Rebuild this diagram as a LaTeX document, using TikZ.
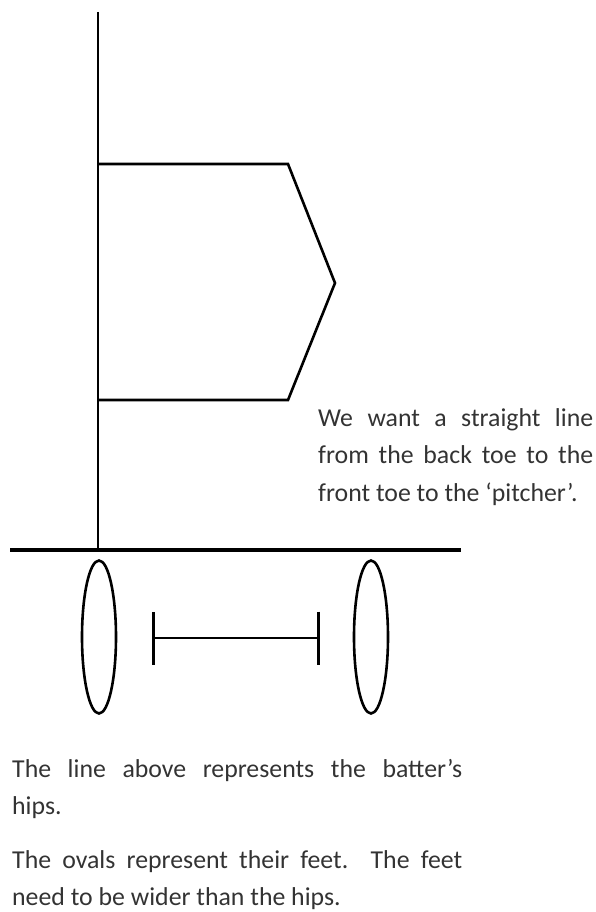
\documentclass[tikz,border=0pt]{standalone}
\usepackage{fontspec}
\setmainfont{Carlito}
\usetikzlibrary{arrows.meta, shapes.geometric}
\tikzset{
  % a stroke of the sketch
  ink/.style   = {draw, line width=2.6pt, line join=miter},
  % the batter's hips
  hips/.style  = {draw, line width=3.4pt},
  % a foot
  foot/.style  = {draw, ellipse, line width=2.6pt, inner sep=0pt,
                  minimum width=34pt, minimum height=153pt},
  % the width of the hips, drawn between the feet
  span/.style  = {{Bar[width=53pt]}-{Bar[width=53pt]}, line width=2.6pt},
  % a note beside the sketch
  note/.style  = {anchor=north west, inner sep=0pt, align=justify,
                  text=black!80, font=\fontsize{25.8}{37.5}\selectfont},
}
\hbadness=10000

\begin{document}
\begin{tikzpicture}[x=1pt, y=-1pt]
  \useasboundingbox (0,0) rectangle (595,912);
  % the batter, seen from above
  \coordinate (head)  at ( 98, 12);
  \coordinate (waist) at ( 98,550);
  \coordinate (bt)    at ( 98,164);
  \coordinate (bb)    at ( 98,400);
  \coordinate (tipT)  at (288,164);
  \coordinate (nose)  at (335,283);
  \coordinate (tipB)  at (288,400);
  \draw[ink] (head) -- (waist);
  \draw[ink] (bt) -- (tipT) -- (nose) -- (tipB) -- (bb);
  % hips
  \coordinate (hipL) at ( 10,550);
  \coordinate (hipR) at (461,550);
  \draw[hips] (hipL) -- (hipR);
  % feet
  \node[foot] (back)  at ( 99,637) {};
  \node[foot] (front) at (371,637) {};
  \coordinate (spanL) at (152,638);
  \coordinate (spanR) at (320,638);
  \draw[span] (spanL) -- (spanR);
  % notes
  \node[note, text width=275pt] (aim) at (318,408)
    {We want a straight line\linebreak from the back toe to the\linebreak front toe to the ‘pitcher’.};
  \node[note, text width=450pt] (hipnote) at (12,759)
    {The line above represents the batter’s\linebreak hips.};
  \node[note, text width=450pt] (feetnote) at (12,850)
    {The ovals represent their feet.\ \ The feet\linebreak need to be wider than the hips.};
\end{tikzpicture}
\end{document}
